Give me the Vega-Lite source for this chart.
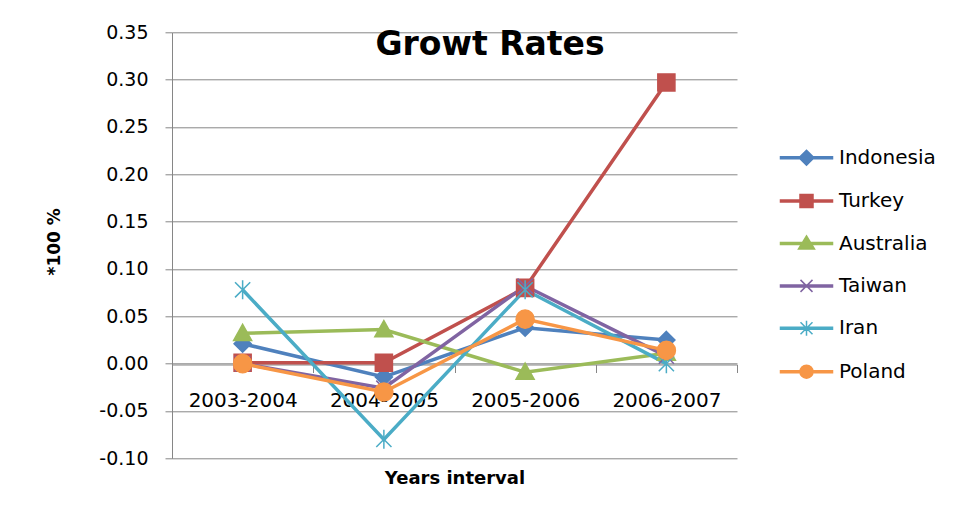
{
  "$schema": "https://vega.github.io/schema/vega-lite/v6.json",
  "width": 565,
  "height": 426,
  "autosize": {"type": "none"},
  "padding": {"left": 172, "top": 32.3, "right": 228, "bottom": 57.7},
  "background": "white",
  "config": {"view": {"stroke": null}},
  "title": {
    "text": "Growt Rates",
    "font": "DejaVu Sans",
    "fontSize": 33,
    "fontWeight": "bold",
    "color": "#000000",
    "anchor": "middle",
    "orient": "top",
    "offset": 0,
    "baseline": "alphabetic",
    "dx": 35.5,
    "dy": 65
  },
  "data": {
    "values": [
      {"country": "Indonesia", "interval": "2003-2004", "rate": 0.021},
      {"country": "Indonesia", "interval": "2004-2005", "rate": -0.014},
      {"country": "Indonesia", "interval": "2005-2006", "rate": 0.038},
      {"country": "Indonesia", "interval": "2006-2007", "rate": 0.025},
      {"country": "Turkey", "interval": "2003-2004", "rate": 0.001},
      {"country": "Turkey", "interval": "2004-2005", "rate": 0.001},
      {"country": "Turkey", "interval": "2005-2006", "rate": 0.080},
      {"country": "Turkey", "interval": "2006-2007", "rate": 0.297},
      {"country": "Australia", "interval": "2003-2004", "rate": 0.032},
      {"country": "Australia", "interval": "2004-2005", "rate": 0.036},
      {"country": "Australia", "interval": "2005-2006", "rate": -0.009},
      {"country": "Australia", "interval": "2006-2007", "rate": 0.011},
      {"country": "Taiwan", "interval": "2003-2004", "rate": 0.000},
      {"country": "Taiwan", "interval": "2004-2005", "rate": -0.026},
      {"country": "Taiwan", "interval": "2005-2006", "rate": 0.082},
      {"country": "Taiwan", "interval": "2006-2007", "rate": 0.008},
      {"country": "Iran", "interval": "2003-2004", "rate": 0.078},
      {"country": "Iran", "interval": "2004-2005", "rate": -0.080},
      {"country": "Iran", "interval": "2005-2006", "rate": 0.078},
      {"country": "Iran", "interval": "2006-2007", "rate": 0.000},
      {"country": "Poland", "interval": "2003-2004", "rate": 0.000},
      {"country": "Poland", "interval": "2004-2005", "rate": -0.030},
      {"country": "Poland", "interval": "2005-2006", "rate": 0.047},
      {"country": "Poland", "interval": "2006-2007", "rate": 0.014}
    ]
  },
  "encoding": {
    "x": {
      "field": "interval",
      "type": "nominal",
      "sort": ["2003-2004", "2004-2005", "2005-2006", "2006-2007"],
      "scale": {"type": "band", "paddingInner": 0, "paddingOuter": 0},
      "axis": {
        "orient": "bottom",
        "offset": -93.8,
        "grid": false,
        "labelAngle": 0,
        "labelFont": "DejaVu Sans",
        "labelFontSize": 20,
        "labelColor": "#000000",
        "labelPadding": 18,
        "tickBand": "extent",
        "tickSize": 8,
        "tickColor": "#868686",
        "domainColor": "#868686",
        "title": "Years interval",
        "titleFont": "DejaVu Sans",
        "titleFontSize": 18,
        "titleFontWeight": "bold",
        "titleColor": "#000000",
        "titleY": 114,
        "titleBaseline": "middle"
      }
    },
    "y": {
      "field": "rate",
      "type": "quantitative",
      "scale": {"domain": [-0.1, 0.35], "nice": false, "zero": false},
      "axis": {
        "values": [-0.1, -0.05, 0, 0.05, 0.1, 0.15, 0.2, 0.25, 0.3, 0.35],
        "labelExpr": "replace(format(datum.value, '.2f'), '−', '-')",
        "grid": true,
        "gridColor": "#868686",
        "gridWidth": 1,
        "domainColor": "#868686",
        "tickColor": "#868686",
        "tickSize": 7,
        "labelPadding": 17,
        "labelFont": "DejaVu Sans",
        "labelFontSize": 19,
        "labelColor": "#000000",
        "title": "*100 %",
        "titleFont": "DejaVu Sans",
        "titleFontSize": 17,
        "titleFontWeight": "bold",
        "titleColor": "#000000",
        "titleAngle": -90,
        "titleX": -118,
        "titleY": 209,
        "titleAlign": "center",
        "titleBaseline": "middle"
      }
    },
    "color": {
      "field": "country",
      "type": "nominal",
      "scale": {
        "domain": ["Indonesia", "Turkey", "Australia", "Taiwan", "Iran", "Poland"],
        "range": ["#4F81BD", "#C0504D", "#9BBB59", "#8064A2", "#4BACC6", "#F79646"]
      },
      "legend": {
        "title": null,
        "orient": "none",
        "legendX": 623.5,
        "legendY": 114.4,
        "padding": 0,
        "symbolSize": 400,
        "symbolStrokeWidth": 1.5,
        "symbolOpacity": 1,
        "labelFont": "DejaVu Sans",
        "labelFontSize": 20,
        "labelColor": "#000000",
        "labelOffset": 21.5,
        "rowPadding": 21.4,
        "encode": {
          "symbols": {
            "update": {
              "shape": {"signal": "datum.value === 'Indonesia' ? 'M-2.6,-0.1H2.6V0.1H-2.6Z M0,-0.75L0.75,0L0,0.75L-0.75,0Z' : datum.value === 'Turkey' ? 'M-2.6,-0.1H2.6V0.1H-2.6Z M-0.65,-0.65H0.65V0.65H-0.65Z' : datum.value === 'Australia' ? 'M-2.6,-0.1H2.6V0.1H-2.6Z M0,-0.75L0.8,0.55H-0.8Z' : datum.value === 'Taiwan' ? 'M-2.6,-0.1H2.6V0.1H-2.6Z M-0.6,-0.6L0.6,0.6M-0.6,0.6L0.6,-0.6' : datum.value === 'Iran' ? 'M-2.6,-0.1H2.6V0.1H-2.6Z M-0.6,-0.6L0.6,0.6M-0.6,0.6L0.6,-0.6M0,-0.75V0.75' : 'M-2.6,-0.1H2.6V0.1H-2.6Z M0.65,0A0.65,0.65,0,1,1,-0.65,0A0.65,0.65,0,1,1,0.65,0Z'"},
              "fill": {"scale": "color", "field": "value"},
              "stroke": {"scale": "color", "field": "value"},
              "strokeWidth": {"value": 1.5},
              "opacity": {"value": 1}
            }
          }
        }
      }
    }
  },
  "layer": [
    {"mark": {"type": "line", "strokeWidth": 3.5}},
    {
      "transform": [{"filter": {"field": "country", "equal": "Indonesia"}}],
      "mark": {"type": "point", "filled": true, "size": 361, "strokeWidth": 1.5, "opacity": 1, "stroke": "#4F81BD", "shape": "M0,-0.9L0.9,0L0,0.9L-0.9,0Z"}
    },
    {
      "transform": [{"filter": {"field": "country", "equal": "Turkey"}}],
      "mark": {"type": "point", "filled": true, "size": 361, "strokeWidth": 1.5, "opacity": 1, "stroke": "#C0504D", "shape": "M-0.9,-0.9H0.9V0.9H-0.9Z"}
    },
    {
      "transform": [{"filter": {"field": "country", "equal": "Australia"}}],
      "mark": {"type": "point", "filled": true, "size": 361, "strokeWidth": 1.5, "opacity": 1, "stroke": "#9BBB59", "shape": "M0,-0.95L0.95,0.75H-0.95Z"}
    },
    {
      "transform": [{"filter": {"field": "country", "equal": "Taiwan"}}],
      "mark": {"type": "point", "filled": true, "size": 361, "strokeWidth": 1.5, "opacity": 1, "stroke": "#8064A2", "shape": "M-0.8,-0.8L0.8,0.8M-0.8,0.8L0.8,-0.8"}
    },
    {
      "transform": [{"filter": {"field": "country", "equal": "Iran"}}],
      "mark": {"type": "point", "filled": true, "size": 361, "strokeWidth": 1.5, "opacity": 1, "stroke": "#4BACC6", "shape": "M-0.8,-0.8L0.8,0.8M-0.8,0.8L0.8,-0.8M0,-1V1"}
    },
    {
      "transform": [{"filter": {"field": "country", "equal": "Poland"}}],
      "mark": {"type": "point", "filled": true, "size": 361, "strokeWidth": 1.5, "opacity": 1, "stroke": "#F79646", "shape": "M0.95,0A0.95,0.95,0,1,1,-0.95,0A0.95,0.95,0,1,1,0.95,0Z"}
    }
  ]
}
